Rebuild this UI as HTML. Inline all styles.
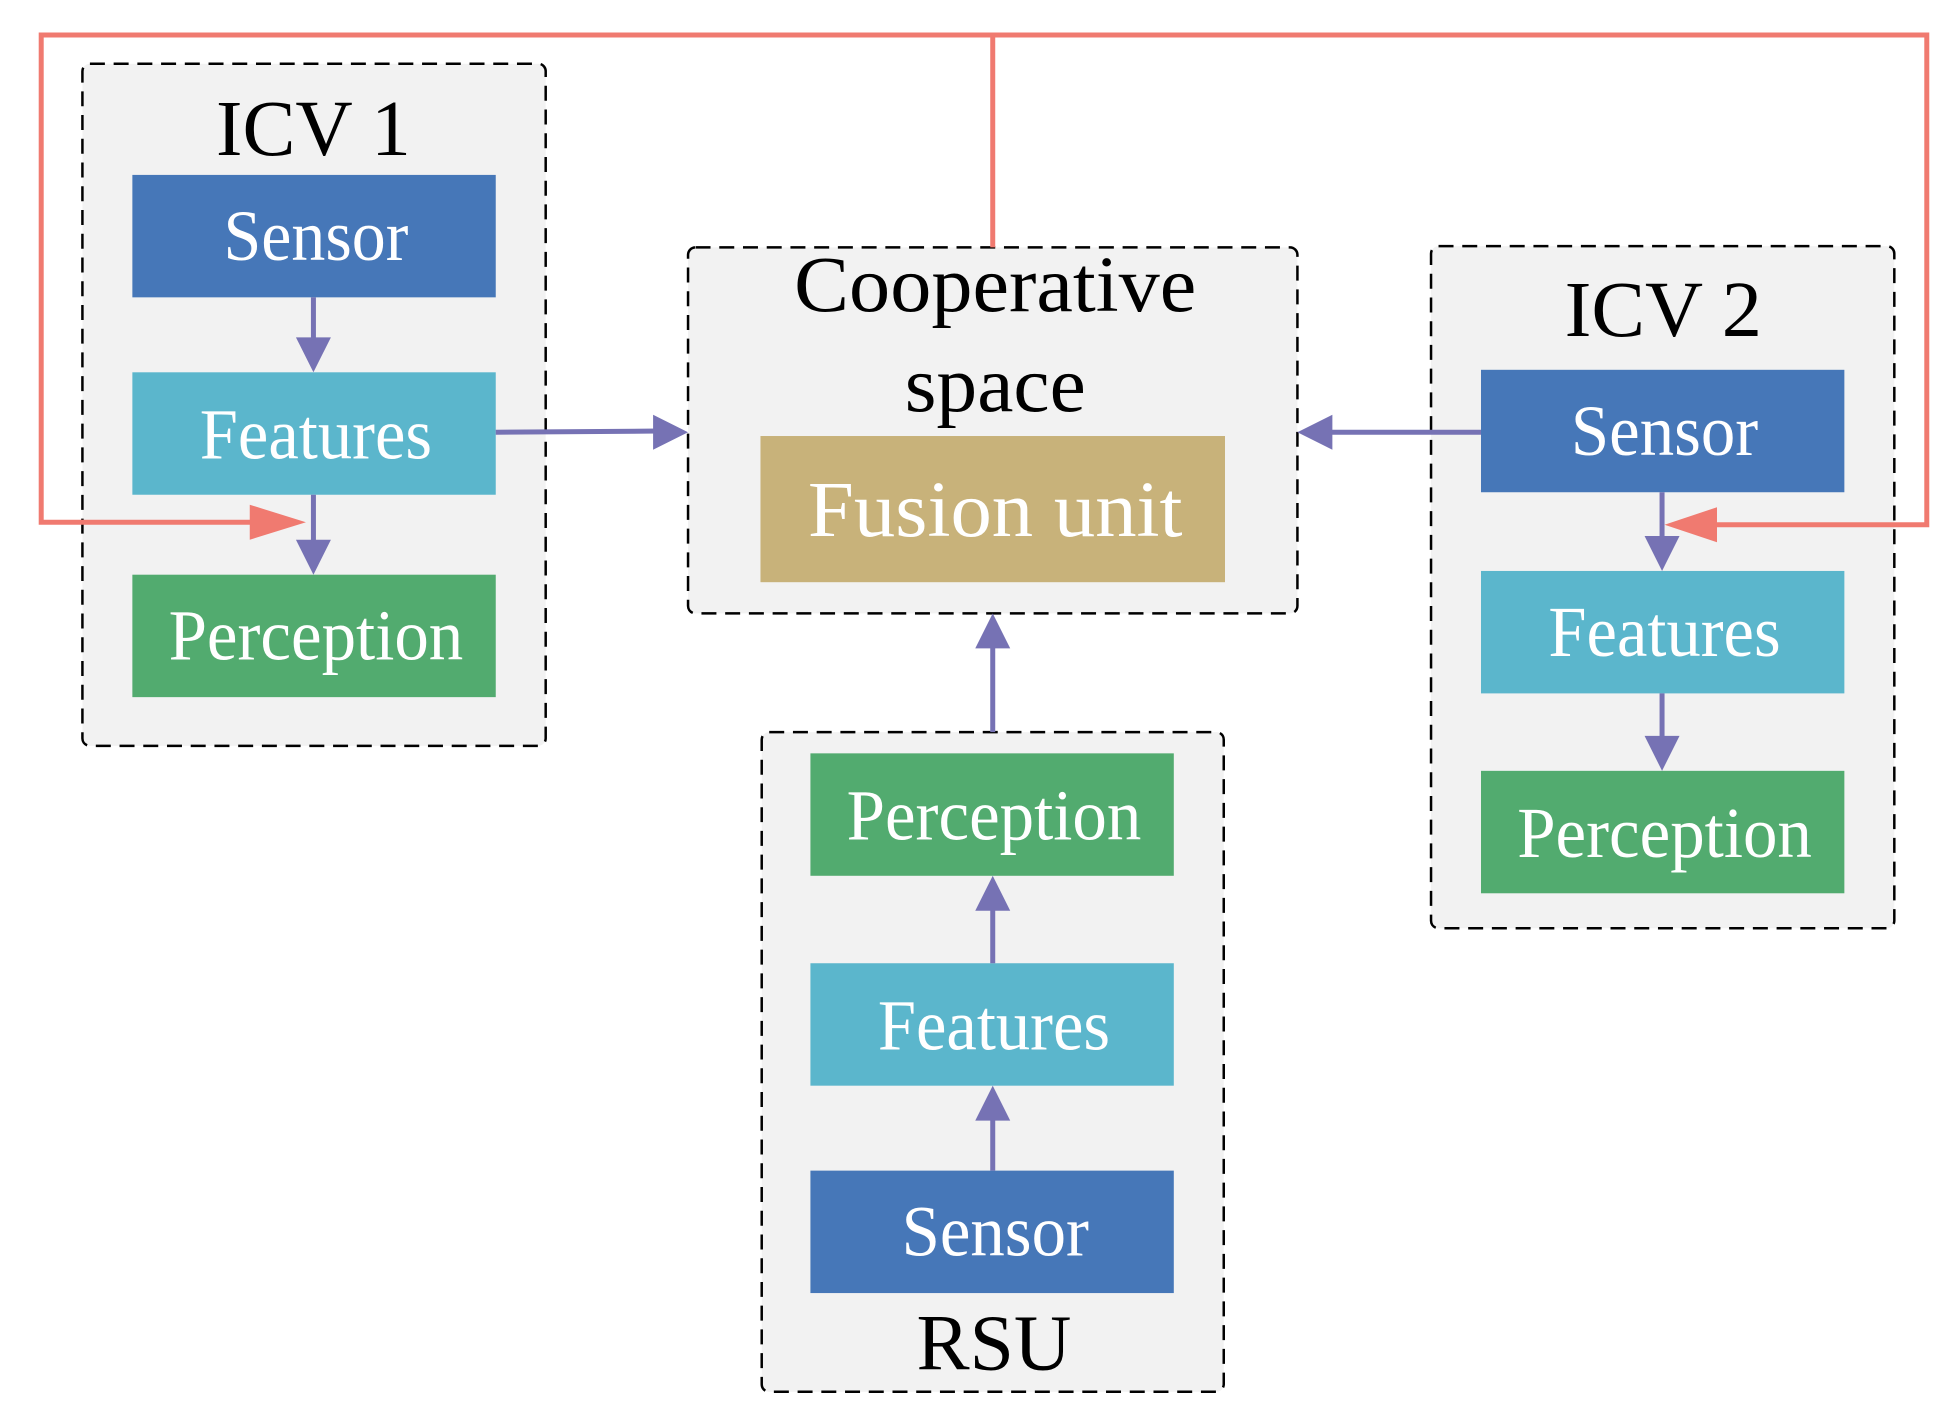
<!DOCTYPE html>
<html><head><style>html,body{margin:0;padding:0;background:#fff;}svg{display:block}</style></head>
<body>
<svg width="1958" height="1423" viewBox="0 0 1568 1139" preserveAspectRatio="none" xmlns="http://www.w3.org/2000/svg" font-family="'Liberation Serif', serif">
<g fill="#f2f2f2" stroke="#000" stroke-width="2" stroke-dasharray="12,7">
<rect x="66" y="51" width="371" height="546" rx="6"/>
<rect x="551" y="198" width="488" height="293" rx="6"/>
<rect x="1146" y="197" width="371" height="546" rx="6"/>
<rect x="610" y="586" width="370" height="528" rx="6"/>
</g>
<g fill="none" stroke="#f07a70" stroke-width="4">
<polyline points="795,198 795,28 33,28 33,418 210,418"/>
<polyline points="795,28 1543,28 1543,420 1365,420"/>
</g>
<polygon points="200,404 245,418 200,432" fill="#f07a70"/>
<polygon points="1375,406 1333,420 1375,434" fill="#f07a70"/>
<g>
<rect x="106" y="140" width="291" height="98" fill="#4677b8"/>
<rect x="106" y="298" width="291" height="98" fill="#5bb6cc"/>
<rect x="106" y="460" width="291" height="98" fill="#52ab6f"/>
<rect x="1186" y="296" width="291" height="98" fill="#4677b8"/>
<rect x="1186" y="457" width="291" height="98" fill="#5bb6cc"/>
<rect x="1186" y="617" width="291" height="98" fill="#52ab6f"/>
<rect x="649" y="603" width="291" height="98" fill="#52ab6f"/>
<rect x="649" y="771" width="291" height="98" fill="#5bb6cc"/>
<rect x="649" y="937" width="291" height="98" fill="#4677b8"/>
<rect x="609" y="349" width="372" height="117" fill="#c8b27a"/>
</g>
<g stroke="#7672b4" stroke-width="4" fill="none">
<line x1="251" y1="238" x2="251" y2="275"/>
<line x1="251" y1="396" x2="251" y2="437"/>
<line x1="397" y1="346" x2="528" y2="345"/>
<line x1="1186" y1="346" x2="1062" y2="346"/>
<line x1="1331" y1="394" x2="1331" y2="434"/>
<line x1="1331" y1="555" x2="1331" y2="594"/>
<line x1="795" y1="586" x2="795" y2="514"/>
<line x1="795" y1="771" x2="795" y2="724"/>
<line x1="795" y1="937" x2="795" y2="892"/>
</g>
<g fill="#7672b4">
<polygon points="237,270 265,270 251,298"/>
<polygon points="237,432 265,432 251,460"/>
<polygon points="523,332 551,346 523,360"/>
<polygon points="1067,332 1039,346 1067,360"/>
<polygon points="1317,429 1345,429 1331,457"/>
<polygon points="1317,589 1345,589 1331,617"/>
<polygon points="781,519 809,519 795,491"/>
<polygon points="781,729 809,729 795,701"/>
<polygon points="781,897 809,897 795,869"/>
</g>
<g text-anchor="middle" fill="#000" font-size="64">
<text x="251" y="124" textLength="156" lengthAdjust="spacingAndGlyphs">ICV 1</text>
<text x="1332" y="269" textLength="158" lengthAdjust="spacingAndGlyphs">ICV 2</text>
<text x="797" y="249" textLength="322" lengthAdjust="spacingAndGlyphs">Cooperative</text>
<text x="797" y="329" textLength="145" lengthAdjust="spacingAndGlyphs">space</text>
<text x="796" y="1096" textLength="124" lengthAdjust="spacingAndGlyphs">RSU</text>
</g>
<g text-anchor="middle" fill="#fff" font-size="58">
<text x="253" y="208" textLength="148" lengthAdjust="spacingAndGlyphs">Sensor</text>
<text x="253" y="367" textLength="186" lengthAdjust="spacingAndGlyphs">Features</text>
<text x="253" y="528" textLength="236" lengthAdjust="spacingAndGlyphs">Perception</text>
<text x="1333" y="364" textLength="150" lengthAdjust="spacingAndGlyphs">Sensor</text>
<text x="1333" y="525" textLength="186" lengthAdjust="spacingAndGlyphs">Features</text>
<text x="1333" y="686" textLength="236" lengthAdjust="spacingAndGlyphs">Perception</text>
<text x="796" y="672" textLength="236" lengthAdjust="spacingAndGlyphs">Perception</text>
<text x="796" y="840" textLength="186" lengthAdjust="spacingAndGlyphs">Features</text>
<text x="797" y="1005" textLength="150" lengthAdjust="spacingAndGlyphs">Sensor</text>
<text x="797" y="429" font-size="64" textLength="300" lengthAdjust="spacingAndGlyphs">Fusion unit</text>
</g>
</svg>
</body></html>
